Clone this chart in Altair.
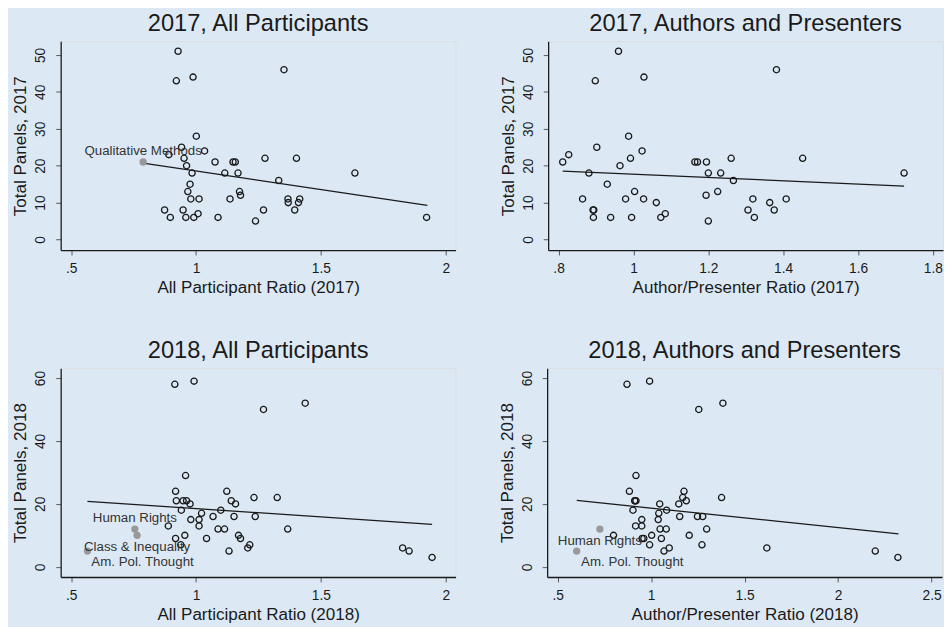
import altair as alt
import pandas as pd

# ---------------- data ----------------
# 2017, All Participants
p1_x = [0.928, 0.921, 0.988, 1.352, 1.001, 0.942, 0.891, 1.034, 0.952, 1.276, 1.402, 0.962,
        1.076, 1.148, 1.157, 0.984, 1.115, 1.168, 1.636, 1.331, 0.976, 0.967, 1.174, 1.178,
        0.979, 1.012, 1.136, 1.368, 1.369, 1.415, 1.410, 0.874, 0.948, 1.270, 1.395, 1.008,
        0.897, 0.959, 0.991, 1.088, 1.923, 1.238]
p1_y = [51, 43, 44, 46, 28, 25, 23, 24, 22, 22, 22, 20,
        21, 21, 21, 18, 18, 18, 18, 16, 15, 13, 13, 12,
        11, 11, 11, 11, 10, 11, 10, 8, 8, 8, 8, 7,
        6, 6, 6, 6, 6, 5]
p1_hx = [0.788]
p1_hy = [21]
p1_hl = ["Qualitative Methods"]
p1_fx = [0.788, 1.926]
p1_fy = [20.7, 9.24]

# 2017, Authors and Presenters
p2_x = [0.960, 0.898, 1.028, 1.382, 0.987, 0.902, 0.827, 1.023, 0.811, 0.992, 1.261, 1.452,
        0.964, 1.164, 1.171, 1.195, 0.881, 1.200, 1.233, 1.723, 1.267, 0.930, 1.003, 1.225,
        1.194, 0.864, 0.979, 1.027, 1.319, 1.408, 1.061, 1.364, 0.892, 0.894, 1.306, 1.376,
        1.085, 0.893, 0.939, 0.995, 1.073, 1.323, 1.200]
p2_y = [51, 43, 44, 46, 28, 25, 23, 24, 21, 22, 22, 22,
        20, 21, 21, 21, 18, 18, 18, 18, 16, 15, 13, 13,
        12, 11, 11, 11, 11, 11, 10, 10, 8, 8, 8, 8,
        7, 6, 6, 6, 6, 6, 5]
p2_hx = []
p2_hy = []
p2_hl = []
p2_fx = [0.811, 1.723]
p2_fy = [18.56, 14.48]

# 2018, All Participants
p3_x = [0.915, 0.992, 1.270, 1.437, 0.958, 0.918, 1.123, 1.232, 1.325, 0.921, 0.948, 0.962,
        1.141, 0.976, 1.158, 0.941, 1.099, 1.022, 1.068, 1.152, 1.237, 0.979, 1.012, 0.889,
        1.012, 1.088, 1.114, 1.367, 0.955, 1.170, 0.918, 1.042, 1.178, 0.939, 1.215, 1.207,
        1.827, 1.132, 1.853, 1.945]
p3_y = [58, 59, 50, 52, 29, 24, 24, 22, 22, 21, 21, 21,
        21, 20, 20, 18, 18, 17, 16, 16, 16, 15, 15, 13,
        13, 12, 12, 12, 10, 10, 9, 9, 9, 7, 7, 6,
        6, 5, 5, 3]
p3_hx = [0.755, 0.764, 0.565]
p3_hy = [12, 10, 5]
p3_hl = ["Human Rights", "Class & Inequality", "Am. Pol. Thought"]
p3_fx = [0.565, 1.945]
p3_fy = [20.8, 13.5]

# 2018, Authors and Presenters
p4_x = [0.871, 0.992, 1.255, 1.384, 0.919, 0.884, 1.176, 1.377, 1.169, 0.913, 0.919, 0.913,
        1.188, 1.046, 1.148, 0.903, 1.083, 1.041, 1.153, 1.248, 1.276, 0.950, 1.038, 0.917,
        0.950, 1.048, 1.081, 1.297, 0.799, 1.003, 1.204, 0.952, 0.961, 1.055, 0.992, 1.272,
        1.097, 1.619, 1.069, 2.199, 2.320]
p4_y = [58, 59, 50, 52, 29, 24, 24, 22, 22, 21, 21, 21,
        21, 20, 20, 18, 18, 17, 16, 16, 16, 15, 15, 13,
        13, 12, 12, 12, 10, 10, 10, 9, 9, 9, 7, 7,
        6, 6, 5, 5, 3]
p4_hx = [0.726, 0.602]
p4_hy = [12, 5]
p4_hl = ["Human Rights", "Am. Pol. Thought"]
p4_fx = [0.602, 2.323]
p4_fy = [21.1, 10.45]

ticks_x_a = [0.5, 1, 1.5, 2]
ticks_x_b = [0.8, 1, 1.2, 1.4, 1.6, 1.8]
ticks_x_c = [0.5, 1, 1.5, 2, 2.5]
ticks_y_17 = [0, 10, 20, 30, 40, 50]
ticks_y_18 = [0, 20, 40, 60]

# ---------------- styling ----------------
BG = "#dce9f5"
INK = "#1a1a1a"
FONT = "Liberation Sans"
W, H = 401, 212

# label placement per marker label (dx, dy, align)
PLACE = {
    ("p1", "Qualitative Methods"): (0, -11, "center"),
    ("p3", "Human Rights"): (0, -11.5, "center"),
    ("p3", "Class & Inequality"): (0, 12.3, "center"),
    ("p3", "Am. Pol. Thought"): (4, 11.3, "left"),
    ("p4", "Human Rights"): (0, 12, "center"),
    ("p4", "Am. Pol. Thought"): (4.5, 11.3, "left"),
}

LABEL_EXPR = "indexof(datum.label, '0.') == 0 ? substring(datum.label, 1) : datum.label"


def panel(key, xs, ys, hx, hy, hl, fx, fy, xdom, ydom, xticks, yticks,
          title, xtitle, ytitle):
    pts = pd.DataFrame({"x": xs, "y": ys})
    fit = pd.DataFrame({"x": fx, "y": fy})
    xs_ = alt.Scale(domain=xdom, nice=False, zero=False)
    ys_ = alt.Scale(domain=ydom, nice=False, zero=False)
    xax = alt.Axis(values=xticks, title=xtitle, labelExpr=LABEL_EXPR, format="~g",
                   grid=False, domainColor=INK, domainWidth=1.3, tickColor="#555",
                   tickSize=5, labelFontSize=14, labelColor=INK, labelPadding=7,
                   titleFontSize=17.3, titleFontWeight="normal", titleColor=INK,
                   titlePadding=3.5, labelFont=FONT, titleFont=FONT)
    yax = alt.Axis(values=yticks, title=ytitle, grid=False, domainColor=INK,
                   domainWidth=1.3, tickColor="#555", tickSize=5, labelFontSize=14,
                   labelColor=INK, labelAngle=270, labelAlign="center",
                   labelBaseline="bottom", labelPadding=8, titleFontSize=17.3,
                   titleFontWeight="normal", titleColor=INK, titlePadding=4.5,
                   labelFont=FONT, titleFont=FONT)
    base = alt.Chart(pts).mark_point(
        shape="circle", filled=False, stroke=INK, strokeWidth=1.3, size=40, opacity=1
    ).encode(
        x=alt.X("x:Q", scale=xs_, axis=xax),
        y=alt.Y("y:Q", scale=ys_, axis=yax),
    )
    line = alt.Chart(fit).mark_line(color=INK, strokeWidth=1.3).encode(
        x="x:Q", y="y:Q")
    layers = [base, line]
    if hx:
        hdf = pd.DataFrame({"x": hx, "y": hy, "label": hl})
        layers.append(alt.Chart(hdf).mark_circle(color="#999999", size=55, opacity=1)
                      .encode(x="x:Q", y="y:Q"))
        for i, lab in enumerate(hl):
            dx, dy, align = PLACE[(key, lab)]
            one = pd.DataFrame({"x": [hx[i]], "y": [hy[i]], "label": [lab]})
            layers.append(
                alt.Chart(one).mark_text(
                    font=FONT, fontSize=13.5, color="#333333", dx=dx, dy=dy,
                    align=align, baseline="middle"
                ).encode(x="x:Q", y="y:Q", text="label:N")
            )
    return alt.layer(*layers).properties(
        width=W, height=H,
        title=alt.TitleParams(title, fontSize=24, fontWeight="normal", font=FONT,
                              color=INK, anchor="middle", frame="group",
                              offset=-13.2, baseline="alphabetic"),
    )


c1 = panel("p1", p1_x, p1_y, p1_hx, p1_hy, p1_hl, p1_fx, p1_fy,
           [0.458, 2.039], [-2.85, 53.7], ticks_x_a, ticks_y_17,
           "2017, All Participants", "All Participant Ratio (2017)", "Total Panels, 2017")
c2 = panel("p2", p2_x, p2_y, p2_hx, p2_hy, p2_hl, p2_fx, p2_fy,
           [0.772, 1.827], [-2.85, 53.7], ticks_x_b, ticks_y_17,
           "2017, Authors and Presenters", "Author/Presenter Ratio (2017)", "Total Panels, 2017")
c3 = panel("p3", p3_x, p3_y, p3_hx, p3_hy, p3_hl, p3_fx, p3_fy,
           [0.458, 2.039], [-3.23, 63.1], ticks_x_a, ticks_y_18,
           "2018,  All Participants", "All Participant Ratio (2018)", "Total Panels, 2018")
c4 = panel("p4", p4_x, p4_y, p4_hx, p4_hy, p4_hl, p4_fx, p4_fy,
           [0.444, 2.556], [-3.23, 63.1], ticks_x_c, ticks_y_18,
           "2018, Authors and Presenters", "Author/Presenter Ratio (2018)", "Total Panels, 2018")

chart = alt.vconcat(
    alt.hconcat(c1, c2, spacing=42),
    alt.hconcat(c3, c4, spacing=42),
    spacing=41,
).properties(
    background=BG,
    padding={"left": 2.5, "top": -2, "right": 0, "bottom": 0},
).configure_view(stroke=None).configure(font=FONT)

chart.save("out.html", embed_options={"renderer": "svg", "actions": False})
